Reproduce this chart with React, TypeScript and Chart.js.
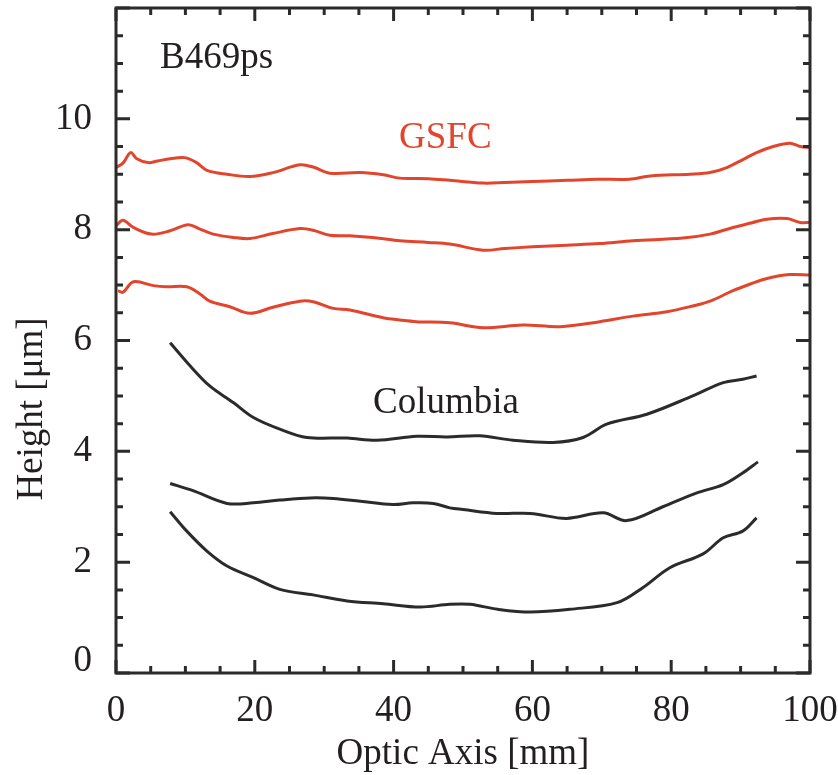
import React, { useEffect, useRef } from 'react';
import { Chart, registerables } from 'chart.js';

Chart.register(...registerables);

// Tick values
const xMajorTicks = [0, 20, 40, 60, 80, 100];
const yMajorTicks = [0, 2, 4, 6, 8, 10];
const xMinorStep = 5;
const yMinorStep = 0.5;

// GSFC profiles
const gsfcAX = [0, 1, 2.1, 3, 4.6, 6, 7.8, 9.9, 11.6, 13.1, 16, 19.3, 22.6, 26.5, 28.4, 30.8, 35.2, 38.5, 40.9, 45, 48.1, 52.9, 56, 60, 65, 69.3, 74, 77, 82.7, 85.6, 88, 90.4, 92.3, 94.7, 97.1, 98.6, 100];
const gsfcAY = [9.12, 9.2, 9.39, 9.28, 9.21, 9.24, 9.28, 9.3, 9.21, 9.07, 9.0, 8.96, 9.03, 9.17, 9.13, 9.02, 9.03, 8.99, 8.93, 8.92, 8.89, 8.84, 8.85, 8.87, 8.89, 8.91, 8.91, 8.97, 9.0, 9.03, 9.12, 9.27, 9.39, 9.5, 9.56, 9.5, 9.48];

const gsfcBX = [0, 1, 2.5, 5.1, 7.8, 10.4, 12.1, 14, 16.9, 19.3, 22.6, 26.5, 28.4, 30.8, 33.7, 37.6, 40.9, 45, 48.1, 52.9, 56, 60, 65, 69.7, 74.5, 81.7, 85.6, 88.9, 91.5, 93.8, 96.7, 98.6, 100];
const gsfcBY = [8.07, 8.17, 8.04, 7.92, 7.98, 8.09, 8.01, 7.92, 7.86, 7.84, 7.93, 8.02, 7.99, 7.9, 7.89, 7.85, 7.8, 7.77, 7.74, 7.63, 7.66, 7.69, 7.72, 7.75, 7.8, 7.85, 7.92, 8.04, 8.12, 8.19, 8.2, 8.13, 8.13];

const gsfcCX = [0.3, 1, 2.5, 5.4, 7.3, 10.2, 12.1, 13.5, 16.4, 19.3, 22.6, 26.5, 28.4, 31.3, 33.7, 38.5, 40.9, 43.3, 48.1, 52.9, 58.6, 64, 69.7, 74.5, 79.4, 82.7, 85.6, 88.9, 91.4, 93.8, 97.1, 100];
const gsfcCY = [6.9, 6.87, 7.06, 6.99, 6.97, 6.97, 6.84, 6.71, 6.61, 6.49, 6.6, 6.71, 6.7, 6.58, 6.55, 6.41, 6.37, 6.34, 6.32, 6.23, 6.28, 6.25, 6.34, 6.44, 6.52, 6.61, 6.71, 6.9, 7.02, 7.12, 7.19, 7.18];

// Columbia profiles
const colAX = [7.8, 10.7, 13.5, 16.9, 19.8, 23.6, 27.5, 33.3, 37.6, 43.3, 47.7, 52.4, 57.2, 63, 67.3, 70.7, 76.5, 83.1, 87.5, 90.3, 92.3];
const colAY = [5.96, 5.54, 5.18, 4.88, 4.61, 4.4, 4.25, 4.24, 4.2, 4.27, 4.26, 4.28, 4.2, 4.16, 4.25, 4.49, 4.67, 5.0, 5.24, 5.3, 5.36];

const colBX = [7.8, 11.1, 16, 19.8, 23.6, 28, 31.3, 35.2, 39.9, 42.8, 45.7, 48.1, 50, 54.9, 59.7, 64.9, 70.2, 73.6, 78.8, 83.7, 87.5, 90.3, 92.5];
const colBY = [3.42, 3.29, 3.06, 3.07, 3.12, 3.16, 3.15, 3.1, 3.04, 3.07, 3.06, 2.98, 2.95, 2.88, 2.88, 2.79, 2.89, 2.75, 3.0, 3.25, 3.4, 3.61, 3.81];

const colCX = [7.8, 10.2, 13.1, 16, 19.8, 23.6, 28.4, 33.3, 38.5, 43.8, 48.1, 51, 55, 59.7, 65.4, 72.2, 75.9, 79.8, 84.6, 87.5, 90.3, 92.3];
const colCY = [2.91, 2.56, 2.2, 1.93, 1.72, 1.51, 1.41, 1.3, 1.25, 1.19, 1.24, 1.24, 1.15, 1.1, 1.15, 1.27, 1.54, 1.9, 2.15, 2.44, 2.56, 2.8];

// Annotations (data coordinates)
const annotations = [
  { text: 'B469ps', x: 6.34, y: 10.92, color: '#231f20' },
  { text: 'GSFC', x: 40.78, y: 9.48, color: '#e2452b' },
  { text: 'Columbia', x: 37.03, y: 4.69, color: '#231f20' },
];

const RED = '#e2452b';
const DARK = '#2b2b2b';
const FONT = '"Liberation Serif", "Times New Roman", serif';
const FS = 37;

function zip(xs: number[], ys: number[]) {
  return xs.map((x, i) => ({ x, y: ys[i] }));
}

const framePlugin = {
  id: 'frame',
  afterDraw(chart: any) {
    const { ctx, chartArea, scales } = chart;
    const xs = scales.x;
    const ys = scales.y;
    const { left, right, top, bottom } = chartArea;
    ctx.save();
    ctx.strokeStyle = DARK;
    ctx.lineWidth = 3;
    ctx.lineCap = 'butt';
    ctx.strokeRect(left, top, right - left, bottom - top);
    // x ticks
    for (let v = xs.min; v <= xs.max + 1e-9; v += xMinorStep) {
      const px = xs.getPixelForValue(v);
      const major = xMajorTicks.includes(Math.round(v));
      const len = major ? 13 : 7;
      ctx.beginPath();
      ctx.moveTo(px, bottom);
      ctx.lineTo(px, bottom - len);
      ctx.moveTo(px, top);
      ctx.lineTo(px, top + len);
      ctx.stroke();
    }
    for (let v = ys.min; v <= ys.max + 1e-9; v += yMinorStep) {
      const py = ys.getPixelForValue(v);
      const major = Math.abs(v / 2 - Math.round(v / 2)) < 1e-6;
      const len = major ? 14 : 7;
      ctx.beginPath();
      ctx.moveTo(left, py);
      ctx.lineTo(left + len, py);
      ctx.moveTo(right, py);
      ctx.lineTo(right - len, py);
      ctx.stroke();
    }
    // annotations
    ctx.font = `${FS}px ${FONT}`;
    ctx.textBaseline = 'alphabetic';
    ctx.textAlign = 'left';
    for (const a of annotations) {
      ctx.fillStyle = a.color;
      ctx.fillText(a.text, xs.getPixelForValue(a.x), ys.getPixelForValue(a.y));
    }
    // axis titles
    ctx.fillStyle = '#231f20';
    ctx.textAlign = 'center';
    ctx.fillText('Optic Axis [mm]', (left + right) / 2, 764);
    ctx.translate(42, 409);
    ctx.rotate(-Math.PI / 2);
    ctx.fillText('Height [\u03bcm]', 0, 0);
    ctx.restore();
  },
};

function zeroPad(s: any) {
  s.paddingTop = 0;
  s.paddingBottom = 0;
  s.paddingLeft = 0;
  s.paddingRight = 0;
}

export default function App() {
  const ref = useRef<HTMLCanvasElement | null>(null);
  useEffect(() => {
    if (!ref.current) return;
    const ds = (xs: number[], ys: number[], color: string) => ({
      data: zip(xs, ys),
      borderColor: color,
      backgroundColor: color,
      borderWidth: 3,
      pointRadius: 0,
      tension: 0.35,
      fill: false,
    });
    const chart = new Chart(ref.current, {
      type: 'line',
      data: {
        datasets: [
          ds(gsfcAX, gsfcAY, RED),
          ds(gsfcBX, gsfcBY, RED),
          ds(gsfcCX, gsfcCY, RED),
          ds(colAX, colAY, DARK),
          ds(colBX, colBY, DARK),
          ds(colCX, colCY, DARK),
        ],
      },
      options: {
        animation: false,
        responsive: false,
        maintainAspectRatio: false,
        layout: { padding: { left: 0, right: 28, top: 8, bottom: 0 } },
        plugins: { legend: { display: false }, tooltip: { enabled: false } },
        scales: {
          x: {
            type: 'linear',
            min: 0,
            max: 100,
            grid: { display: false },
            border: { display: false },
            afterBuildTicks: (s: any) => {
              s.ticks = xMajorTicks.map((v) => ({ value: v }));
            },
            afterFit: (s: any) => {
              s.height = 102;
              zeroPad(s);
            },
            ticks: {
              color: '#231f20',
              font: { family: FONT, size: FS },
              padding: 8,
              maxRotation: 0,
              autoSkip: false,
            },
          },
          y: {
            type: 'linear',
            min: 0,
            max: 12,
            grid: { display: false },
            border: { display: false },
            afterBuildTicks: (s: any) => {
              s.ticks = yMajorTicks.map((v) => ({ value: v }));
            },
            afterFit: (s: any) => {
              s.width = 116;
              zeroPad(s);
            },
            ticks: {
              color: '#231f20',
              font: { family: FONT, size: FS, lineHeight: 0.65 },
              padding: 16,
              autoSkip: false,
              callback: (v: any) => (v === 0 ? ['0', ''] : String(v)),
            },
          },
        },
      },
      plugins: [framePlugin],
    });
    return () => chart.destroy();
  }, []);
  return (
    <div style={{ position: 'absolute', left: 0, top: 0, width: 838, height: 775, background: '#fff' }}>
      <canvas ref={ref} width={838} height={775} style={{ width: 838, height: 775 }} />
    </div>
  );
}
